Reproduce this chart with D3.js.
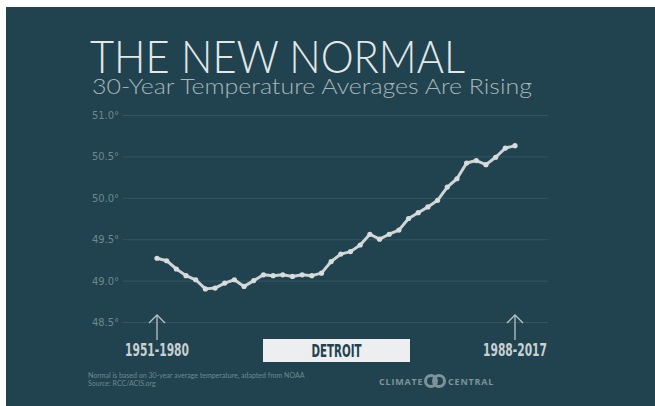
<!DOCTYPE html>
<html><head><meta charset="utf-8">
<script src="https://cdn.jsdelivr.net/npm/d3@7"></script>
<style>html,body{margin:0;padding:0;background:#fff;}svg{display:block;}</style>
</head><body>
<script>
const periodEnds = d3.range(1980, 2018);
const normals = [49.27,49.24,49.14,49.06,49.01,48.90,48.91,48.97,49.01,48.93,
  49.00,49.07,49.06,49.07,49.05,49.07,49.06,49.09,49.23,49.32,
  49.35,49.43,49.56,49.50,49.56,49.61,49.75,49.82,49.89,49.97,
  50.13,50.23,50.42,50.45,50.40,50.49,50.60,50.63];
const yTicks = [48.5, 49.0, 49.5, 50.0, 50.5, 51.0];
const startLabel = "1951-1980";
const endLabel = "1988-2017";
const cityLabel = "DETROIT";
const title = "THE NEW NORMAL";
const subtitle = "30-Year Temperature Averages Are Rising";
const notes = ["Normal is based on 30-year average temperature, adapted from NOAA", "Source: RCC/ACIS.org"];

const W = 655, H = 406;
const svg = d3.select("body").append("svg").attr("width", W).attr("height", H);
svg.append("rect").attr("x", 6).attr("y", 7).attr("width", W - 6).attr("height", H - 7).attr("fill", "#20434f");

const x = d3.scaleLinear().domain([1980, 2017]).range([157, 515]);
const y = d3.scaleLinear().domain([48.5, 51.0]).range([322, 115]);

// title
svg.append("text").attr("x", 90).attr("y", 73).text(title)
  .attr("font-family", "Lato, 'Open Sans', sans-serif").attr("font-weight", 300)
  .attr("font-size", 45).attr("fill", "#e3e7e8").attr("textLength", 375).attr("lengthAdjust", "spacingAndGlyphs");
svg.append("text").attr("x", 92).attr("y", 94).text(subtitle)
  .attr("font-family", "Lato, 'Open Sans', sans-serif").attr("font-weight", 300)
  .attr("font-size", 22).attr("fill", "#a8b5b9").attr("textLength", 440).attr("lengthAdjust", "spacingAndGlyphs");

// grid
const grid = svg.append("g").attr("transform", "translate(123,0)")
  .call(d3.axisLeft(y).tickValues(yTicks).tickSize(-425).tickFormat(d => d3.format(".1f")(d) + "°"));
grid.select(".domain").remove();
grid.selectAll(".tick line").attr("stroke", "#34565f").attr("stroke-width", 1);
grid.selectAll(".tick text").attr("x", -4).attr("fill", "#6e8990")
  .attr("font-family", "'Liberation Sans Narrow', 'DejaVu Sans Condensed', sans-serif")
  .attr("font-size", 11).attr("text-anchor", "end");

// line
const line = d3.line().x((d, i) => x(periodEnds[i])).y(d => y(d));
svg.append("path").datum(normals).attr("d", line).attr("fill", "none")
  .attr("stroke", "#cfd4d5").attr("stroke-width", 3).attr("stroke-linejoin", "round");
svg.append("g").selectAll("circle").data(normals).join("circle")
  .attr("cx", (d, i) => x(periodEnds[i])).attr("cy", d => y(d)).attr("r", 2.6).attr("fill", "#d8dcdd");

// arrows
[1980, 2017].forEach(yr => {
  const cx = x(yr);
  const g = svg.append("g").attr("stroke", "#b9c3c6").attr("stroke-width", 1.3).attr("fill", "none");
  g.append("line").attr("x1", cx).attr("x2", cx).attr("y1", 315).attr("y2", 340);
  g.append("path").attr("d", `M${cx - 8},${323} L${cx},${315} L${cx + 8},${323}`);
});

const condensed = "'Liberation Sans Narrow', 'DejaVu Sans Condensed', sans-serif";
svg.append("text").attr("x", x(1980)).attr("y", 356).attr("text-anchor", "middle").text(startLabel)
  .attr("font-family", condensed).attr("font-weight", 700).attr("font-size", 18).attr("fill", "#c9d0d2")
  .attr("textLength", 64).attr("lengthAdjust", "spacingAndGlyphs");
svg.append("text").attr("x", x(2017)).attr("y", 356).attr("text-anchor", "middle").text(endLabel)
  .attr("font-family", condensed).attr("font-weight", 700).attr("font-size", 18).attr("fill", "#c9d0d2")
  .attr("textLength", 64).attr("lengthAdjust", "spacingAndGlyphs");

// city box
svg.append("rect").attr("x", 263).attr("y", 339).attr("width", 147).attr("height", 23).attr("fill", "#eceeef");
svg.append("text").attr("x", 336.5).attr("y", 357).attr("text-anchor", "middle").text(cityLabel)
  .attr("font-family", condensed).attr("font-weight", 700).attr("font-size", 18).attr("fill", "#21424f")
  .attr("textLength", 50).attr("lengthAdjust", "spacingAndGlyphs");

// notes
notes.forEach((t, i) => {
  svg.append("text").attr("x", 88).attr("y", 378 + i * 8).text(t)
    .attr("font-family", "Lato, sans-serif").attr("font-size", 7).attr("fill", "#6f8a91");
});

// logo
const logo = svg.append("g").attr("fill", "#7d9399");
logo.append("text").attr("x", 379).attr("y", 385).text("CLIMATE")
  .attr("font-family", "'Open Sans', sans-serif").attr("font-weight", 700).attr("font-size", 9)
  .attr("letter-spacing", 0.8);
logo.append("text").attr("x", 448).attr("y", 385).text("CENTRAL")
  .attr("font-family", "'Open Sans', sans-serif").attr("font-weight", 700).attr("font-size", 9)
  .attr("letter-spacing", 0.8);
logo.append("circle").attr("cx", 431).attr("cy", 381).attr("r", 5.5).attr("fill", "none").attr("stroke", "#7d9399").attr("stroke-width", 3);
logo.append("circle").attr("cx", 439).attr("cy", 381).attr("r", 5.5).attr("fill", "none").attr("stroke", "#7d9399").attr("stroke-width", 3);
</script>
</body></html>
